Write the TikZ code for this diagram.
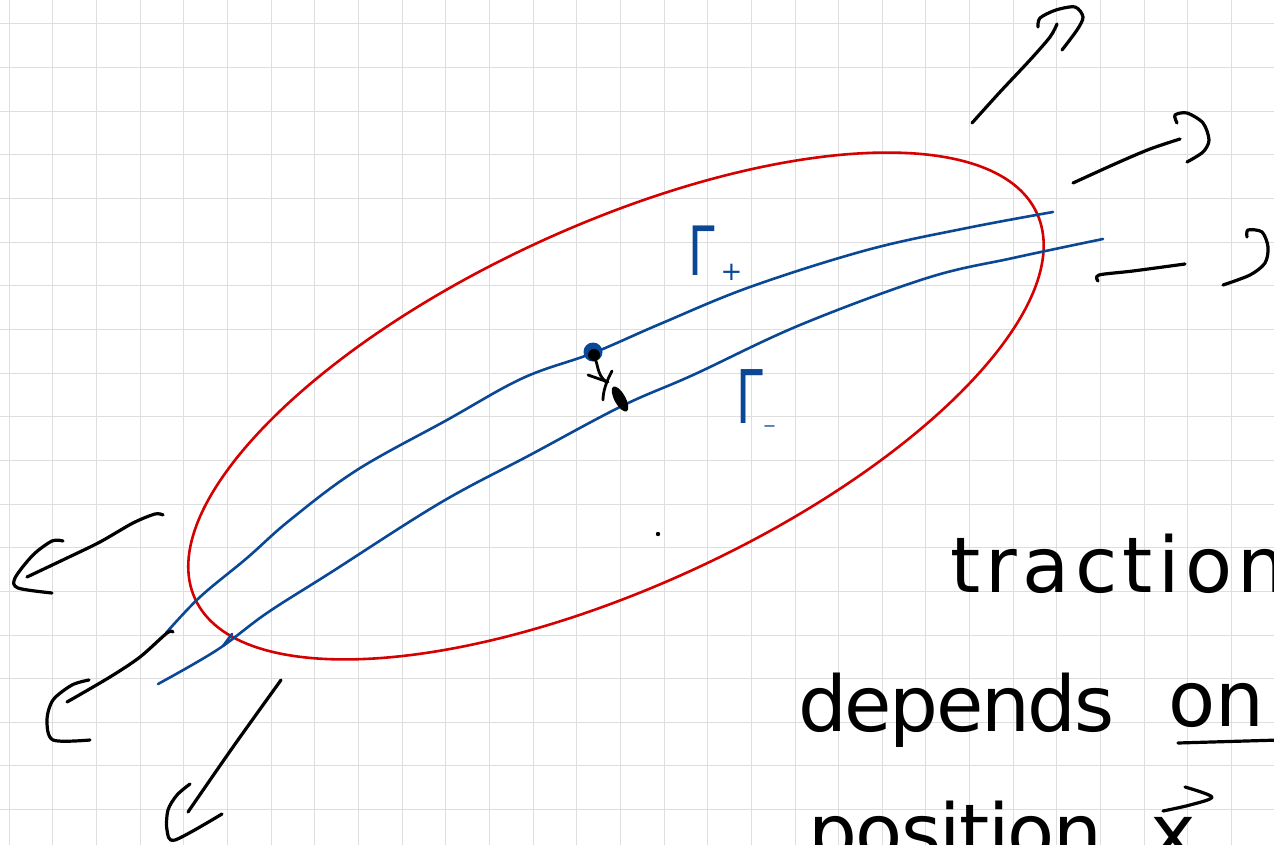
\documentclass[tikz,border=0pt]{standalone}
\usepackage{fontspec}
\usepackage{graphicx}
\usetikzlibrary{shapes.geometric}
\newfontfamily\handA[LetterSpace=7]{DejaVu Sans}
\newfontfamily\handB[LetterSpace=-3]{DejaVu Sans}
\newfontfamily\handC[LetterSpace=-2]{DejaVu Sans}
\newfontfamily\handG{DejaVu Sans}
\definecolor{gridgray}{RGB}{222,222,222}
\definecolor{ered}{RGB}{213,0,0}
\definecolor{eblue}{RGB}{10,72,150}
\begin{document}
\begin{tikzpicture}[x=1pt,y=-1pt,
  gridline/.style={draw=gridgray, line width=1pt},
  redline/.style={draw=ered, line width=2.6pt},
  blueline/.style={draw=eblue, line width=2.6pt, line cap=round, line join=round},
  ink/.style={draw=black, line width=3.2pt, line cap=round, line join=round},
  handtext/.style={inner sep=0pt, outer sep=0pt, anchor=base west, text=black},
  glabel/.style={inner sep=0pt, outer sep=0pt, anchor=base west, text=eblue}]
\useasboundingbox (0,0) rectangle (1274,845);
\clip (0,0) rectangle (1274,845);
\fill[white] (0,0) rectangle (1274,845);
% grid
\foreach \i in {0,...,29} \draw[gridline] ({9.3+43.65*\i},0) -- ({9.3+43.65*\i},845);
\foreach \j in {0,...,19} \draw[gridline] (0,{23.9+43.65*\j}) -- (1274,{23.9+43.65*\j});
% red ellipse
\coordinate (C) at (616,406);
\draw[redline, rotate around={24.6:(C)}] (C) ellipse [x radius=463pt, y radius=181pt];
% Gamma+
\draw[blueline] plot[smooth, tension=0.6] coordinates {(166,633) (200,597) (247,558) (290,520) (357,470) (447,420) (523,378) (593,353) (660,324) (750,287) (867,250) (967,228) (1053,212)};
% Gamma-
\draw[blueline] plot[smooth, tension=0.6] coordinates {(158,684) (217,650) (267,613) (330,573) (440,503) (530,455) (622,406) (693,375) (800,325) (927,278) (1013,258) (1103,239)};
\draw[blueline] (223,646) -- (232,634);
% labels
\node[glabel, font=\handG\fontsize{68}{68}\selectfont] (gp) at (688,275) {\scalebox{0.7}[1]{Γ}\kern6pt\raisebox{-5pt}{\fontsize{26}{26}\selectfont +}};
\node[glabel, font=\handG\fontsize{74}{74}\selectfont] (gm) at (736,423) {\scalebox{0.65}[1]{Γ}\kern0pt\raisebox{-8pt}{\fontsize{16}{16}\selectfont −}};
% center point and displacement
\fill[eblue] (593,352) circle (9.5pt);
\fill[black] (594,355) circle (6pt);
\draw[ink, line width=2.8pt] (594,357) .. controls (599,365) and (596,373) .. (606,382);
\draw[ink, line width=2.8pt] (588,375) -- (608,382);
\draw[ink, line width=2.8pt] (612,371) .. controls (606,382) and (603,392) .. (603,400);
\node[ellipse, fill=black, minimum width=28pt, minimum height=11pt, inner sep=0pt, rotate=-61] (tip) at (620,399) {};
\fill[black] (658,534) circle (2.2pt);
% arrows right
\draw[ink] plot[smooth] coordinates {(972,123) (1000,92) (1030,60) (1050,37) (1057,24)};
\draw[ink] plot[smooth] coordinates {(1038,27) (1040,18) (1056,10) (1075,7) (1083,17) (1077,30) (1062,50)};
\draw[ink] plot[smooth] coordinates {(1073,183) (1117,163) (1150,149) (1180,139)};
\draw[ink] plot[smooth] coordinates {(1177,123) (1175,115) (1187,113) (1203,123) (1209,140) (1203,152) (1187,162)};
\draw[ink] plot[smooth] coordinates {(1098,281) (1099,275) (1133,271) (1185,264)};
\draw[ink] plot[smooth] coordinates {(1247,237) (1248,230) (1262,232) (1268,247) (1265,263) (1250,275) (1223,285)};
% arrows left
\draw[ink] plot[smooth] coordinates {(163,515) (155,514) (133,523) (100,542) (67,558) (27,577)};
\draw[ink] plot[smooth] coordinates {(63,541) (52,541) (33,555) (15,578) (18,588) (52,593)};
\draw[ink] plot[smooth] coordinates {(173,632) (167,633) (140,657) (110,677) (67,702)};
\draw[ink] plot[smooth] coordinates {(89,680) (72,685) (53,700) (47,720) (53,740) (90,740)};
\draw[ink] plot[smooth] coordinates {(281,680) (233,747) (188,812)};
\draw[ink] plot[smooth] coordinates {(190,784) (177,795) (168,810) (167,830) (175,840) (222,814)};
% text
\node[handtext, font=\handA\fontsize{77}{77}\selectfont] (t1) at (950,592) {traction};
\node[handtext, font=\handB\fontsize{77}{77}\selectfont] (t2) at (798,731) {depends};
\node[handtext, font=\handG\fontsize{77}{77}\selectfont] (t3) at (1168,726) {on};
\draw[ink] (1178,743) -- (1280,740);
\node[handtext, font=\handC\fontsize{77}{77}\selectfont] (t4) at (808,859) {position};
\node[handtext, font=\handG\fontsize{77}{77}\selectfont] (t5) at (1150,859) {x};
\draw[ink] plot[smooth] coordinates {(1185,787) (1212,797) (1190,805) (1163,811)};
\end{tikzpicture}
\end{document}
